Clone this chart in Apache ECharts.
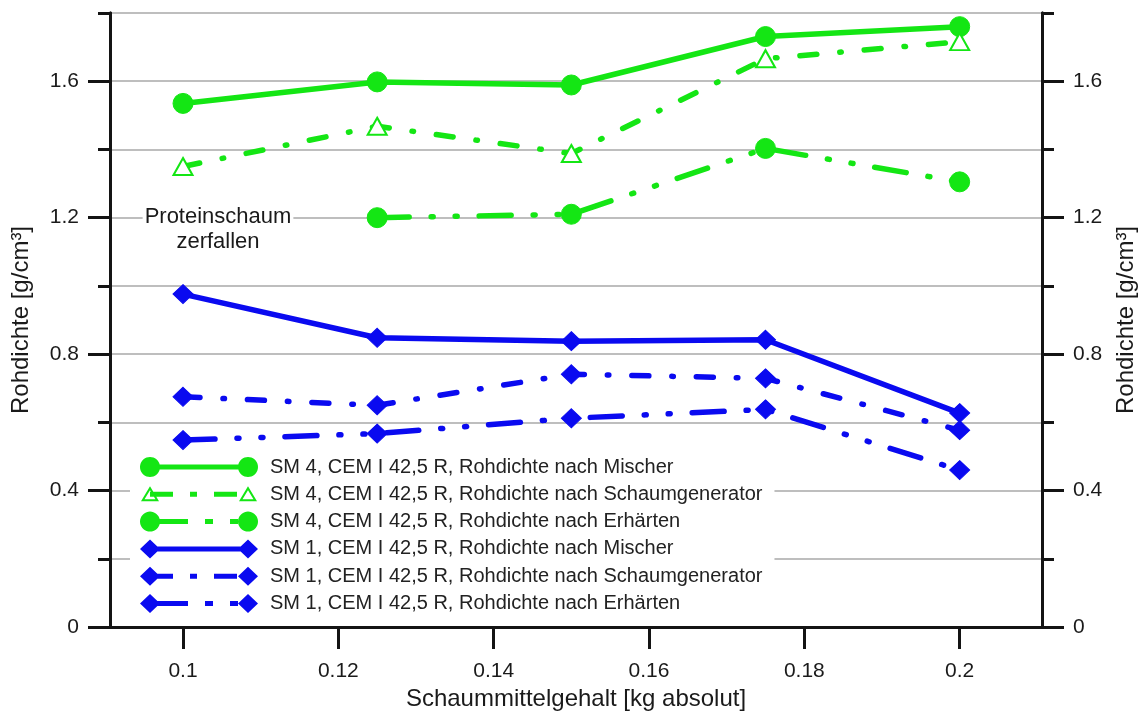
<!DOCTYPE html>
<html>
<head>
<meta charset="utf-8">
<script src="https://cdn.jsdelivr.net/npm/echarts@6/dist/echarts.min.js"></script>
<style>
  html, body { margin: 0; padding: 0; background: #ffffff; }
  #chart { width: 1147px; height: 716px; }
</style>
</head>
<body>
<div id="chart"></div>
<script>
// Schaummittelgehalt [kg absolut]
const schaummittel = [0.1, 0.125, 0.15, 0.175, 0.2];

// Rohdichte [g/cm³]
const sm4Mischer        = [1.535, 1.598, 1.589, 1.731, 1.760];
const sm4Schaumgenerator = [1.350, 1.468, 1.388, 1.666, 1.716];
const sm4Erhaerten       = [null, 1.200, 1.210, 1.403, 1.305];
const sm1Mischer        = [0.976, 0.848, 0.838, 0.842, 0.627];
const sm1Schaumgenerator = [0.675, 0.650, 0.741, 0.729, 0.577];
const sm1Erhaerten       = [0.548, 0.567, 0.612, 0.638, 0.460];

const seriesNames = [
  'SM 4, CEM I 42,5 R, Rohdichte nach Mischer',
  'SM 4, CEM I 42,5 R, Rohdichte nach Schaumgenerator',
  'SM 4, CEM I 42,5 R, Rohdichte nach Erhärten',
  'SM 1, CEM I 42,5 R, Rohdichte nach Mischer',
  'SM 1, CEM I 42,5 R, Rohdichte nach Schaumgenerator',
  'SM 1, CEM I 42,5 R, Rohdichte nach Erhärten'
];

const xTickValues = [0.1, 0.12, 0.14, 0.16, 0.18, 0.2];
const yTickValues = [0, 0.4, 0.8, 1.2, 1.6];

const GREEN = '#14e614';
const BLUE = '#0a0af0';
const AXIS = '#141414';
const TEXT = '#1a1a1a';
const FONT = '"Liberation Sans", Arial, sans-serif';

// dash patterns for the plotted lines (round caps add the line width)
const DASH_DOT = [17, 23, 1.5, 23];
const DASH_DOT_DOT = [32, 22, 2, 22, 2, 22];

function pairs(values) {
  return schaummittel.map((x, i) => [x, values[i]]).filter(p => p[1] != null);
}

// ---- legend icons: line sample with a marker at both ends ----
function rect(x1, y1, x2, y2) {
  return `M${x1},${y1}L${x2},${y1}L${x2},${y2}L${x1},${y2}Z`;
}
function circle(cx, cy, r) {
  let s = '';
  for (let i = 0; i < 36; i++) {
    const a = Math.PI + i * 2 * Math.PI / 36;
    s += (i === 0 ? 'M' : 'L') + (cx + r * Math.cos(a)).toFixed(2) + ',' + (cy + r * Math.sin(a)).toFixed(2);
  }
  return s + 'Z';
}
function diamond(cx, cy, w, h) {
  return `M${cx - w},${cy}L${cx},${cy - h}L${cx + w},${cy}L${cx},${cy + h}Z`;
}
function triangleRing(cx) {
  // outer clockwise, inner counter-clockwise -> hollow outline
  const outer = `M${cx},2L${cx + 9},17L${cx - 9},17Z`;
  const inner = `M${cx},5.9L${cx - 5.47},15L${cx + 5.47},15Z`;
  return outer + inner;
}
function legendIcon(segments, marker) {
  const W = 118, H = 20, y1 = 7.5, y2 = 12.5;
  let p = 'M0,0L0.01,0L0,0.01Z' + `M${W},${H}L${W - 0.01},${H}L${W},${H - 0.01}Z`;
  if (!segments) {
    p += rect(10, y1, 108, y2);
  } else {
    segments.forEach(s => { p += rect(s[0], y1, s[1], y2); });
  }
  if (marker === 'circle') p += circle(10, 10, 10) + circle(108, 10, 10);
  if (marker === 'diamond') p += diamond(10, 10, 10, 9.5) + diamond(108, 10, 10, 9.5);
  if (marker === 'triangle') p += triangleRing(10) + triangleRing(108);
  return 'path://' + p;
}
const LEG_DASH_DOT = [[10, 33], [50, 57], [74, 97]];
const LEG_DASH_DOT_DOT = [[10, 48], [65, 73], [90, 98]];

const legendDefs = [
  { segs: null, marker: 'circle', color: GREEN },
  { segs: LEG_DASH_DOT, marker: 'triangle', color: GREEN },
  { segs: LEG_DASH_DOT_DOT, marker: 'circle', color: GREEN },
  { segs: null, marker: 'diamond', color: BLUE },
  { segs: LEG_DASH_DOT, marker: 'diamond', color: BLUE },
  { segs: LEG_DASH_DOT_DOT, marker: 'diamond', color: BLUE }
];

function lineSeries(name, values, color, dash, symbol, size) {
  return {
    name: name,
    type: 'line',
    xAxisIndex: 0,
    yAxisIndex: 0,
    data: pairs(values),
    symbol: symbol,
    symbolSize: size,
    showAllSymbol: true,
    lineStyle: { color: color, width: 5.5, type: dash || 'solid', cap: 'round', join: 'round' },
    itemStyle: { color: color, borderColor: color },
    emphasis: { disabled: true },
    z: 3
  };
}

const chart = echarts.init(document.getElementById('chart'), null, { renderer: 'canvas' });

const yMain = { type: 'value', min: 0, max: 1.8, interval: 0.2 };
const axisLine = { show: true, onZero: false, lineStyle: { color: AXIS, width: 3 } };
const nameStyle = { fontSize: 24, color: TEXT, fontFamily: FONT };
const labelStyle = { fontSize: 21, color: TEXT, fontFamily: FONT };

const option = {
  animation: false,
  backgroundColor: '#ffffff',
  textStyle: { fontFamily: FONT },
  grid: [
    { left: 110, right: 105, top: 13, bottom: 89 },
    { left: 110, right: 105, top: 13, bottom: 89 }
  ],
  xAxis: [
    {
      type: 'value', gridIndex: 0, min: 0.0906, max: 0.2106,
      axisLine: axisLine,
      axisTick: { show: true, customValues: xTickValues, length: 22, lineStyle: { color: AXIS, width: 3 } },
      axisLabel: Object.assign({ customValues: xTickValues, margin: 34 }, labelStyle),
      splitLine: { show: false },
      name: 'Schaummittelgehalt [kg absolut]',
      nameLocation: 'middle', nameGap: 57, nameTextStyle: nameStyle
    },
    { type: 'value', gridIndex: 1, min: 0.0906, max: 0.2106, show: false }
  ],
  yAxis: [
    Object.assign({}, yMain, {
      gridIndex: 0, position: 'left',
      axisLine: axisLine,
      axisTick: { length: 12, lineStyle: { color: AXIS, width: 3 } },
      axisLabel: { show: false },
      splitLine: { show: true, lineStyle: { color: '#a9a9a9', width: 1.5 } },
      name: 'Rohdichte [g/cm³]', nameLocation: 'middle', nameGap: 77, nameRotate: 90,
      nameTextStyle: nameStyle
    }),
    Object.assign({}, yMain, {
      gridIndex: 0, position: 'right',
      axisLine: axisLine,
      axisTick: { length: 12, lineStyle: { color: AXIS, width: 3 } },
      axisLabel: { show: false },
      splitLine: { show: false },
      name: 'Rohdichte [g/cm³]', nameLocation: 'middle', nameGap: 72, nameRotate: 90,
      nameTextStyle: nameStyle
    }),
    {
      type: 'value', min: 0, max: 1.8, gridIndex: 1, position: 'left',
      axisLine: axisLine,
      axisTick: { show: true, customValues: yTickValues, length: 22, lineStyle: { color: AXIS, width: 3 } },
      axisLabel: Object.assign({ customValues: yTickValues, margin: 31 }, labelStyle),
      splitLine: { show: false }
    },
    {
      type: 'value', min: 0, max: 1.8, gridIndex: 1, position: 'right',
      axisLine: axisLine,
      axisTick: { show: true, customValues: yTickValues, length: 22, lineStyle: { color: AXIS, width: 3 } },
      axisLabel: Object.assign({ customValues: yTickValues, margin: 31 }, labelStyle),
      splitLine: { show: false }
    }
  ],
  legend: {
    orient: 'vertical',
    left: 130,
    top: 452,
    padding: [5, 12, 5, 10],
    backgroundColor: '#ffffff',
    itemWidth: 118,
    itemHeight: 20,
    itemGap: 7.3,
    selectedMode: false,
    textStyle: { fontSize: 20, color: '#222222', fontFamily: FONT, padding: [0, 0, 0, 7] },
    data: seriesNames.map((n, i) => ({
      name: n,
      icon: legendIcon(legendDefs[i].segs, legendDefs[i].marker),
      itemStyle: { color: legendDefs[i].color, borderWidth: 0 }
    })),
    z: 10
  },
  graphic: [
    {
      type: 'text',
      x: 218, y: 229,
      z: 100,
      style: {
        text: 'Proteinschaum\nzerfallen',
        font: '22px "Liberation Sans", Arial, sans-serif',
        fill: TEXT,
        align: 'center', verticalAlign: 'middle',
        textAlign: 'center', textVerticalAlign: 'middle',
        lineHeight: 25,
        backgroundColor: '#ffffff',
        padding: [0, 2]
      }
    }
  ],
  series: [
    lineSeries(seriesNames[0], sm4Mischer, GREEN, null, 'circle', 20),
    lineSeries(seriesNames[1], sm4Schaumgenerator, GREEN, DASH_DOT, 'emptyTriangle', [19, 17]),
    lineSeries(seriesNames[2], sm4Erhaerten, GREEN, DASH_DOT_DOT, 'circle', 20),
    lineSeries(seriesNames[3], sm1Mischer, BLUE, null, 'diamond', [20, 19]),
    lineSeries(seriesNames[4], sm1Schaumgenerator, BLUE, DASH_DOT, 'diamond', [20, 19]),
    lineSeries(seriesNames[5], sm1Erhaerten, BLUE, DASH_DOT_DOT, 'diamond', [20, 19])
  ]
};

chart.setOption(option);
</script>
</body>
</html>
